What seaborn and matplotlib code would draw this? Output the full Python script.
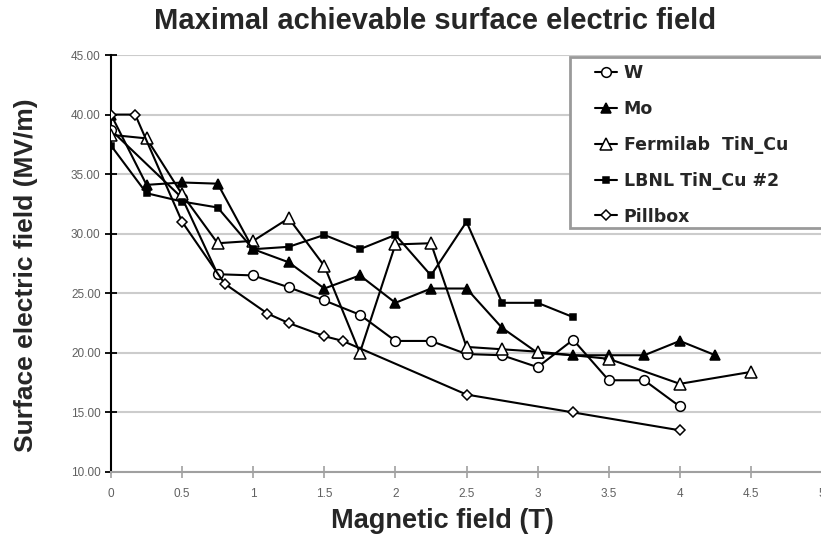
import matplotlib
matplotlib.use("Agg")
import matplotlib.pyplot as plt
from matplotlib.patches import Rectangle
import seaborn as sns
import pandas as pd

# ---- data ----
w_x = [0, 0.5, 0.75, 1, 1.25, 1.5, 1.75, 2, 2.25, 2.5, 2.75, 3, 3.25, 3.5, 3.75, 4]
w_y = [38.7, 33.0, 26.6, 26.5, 25.5, 24.4, 23.2, 21.0, 21.0, 19.9, 19.8, 18.8, 21.1, 17.7, 17.7, 15.5]

mo_x = [0, 0.25, 0.5, 0.75, 1, 1.25, 1.5, 1.75, 2, 2.25, 2.5, 2.75, 3, 3.25, 3.5, 3.75, 4, 4.25]
mo_y = [40.0, 34.1, 34.3, 34.2, 28.7, 27.6, 25.4, 26.5, 24.2, 25.4, 25.4, 22.1, 20.0, 19.8, 19.8, 19.8, 21.0, 19.8]

fn_x = [0, 0.25, 0.5, 0.75, 1, 1.25, 1.5, 1.75, 2, 2.25, 2.5, 2.75, 3, 3.5, 4, 4.5]
fn_y = [38.3, 38.0, 33.3, 29.2, 29.4, 31.3, 27.3, 20.0, 29.1, 29.2, 20.5, 20.3, 20.1, 19.5, 17.4, 18.4]

lb_x = [0, 0.25, 0.5, 0.75, 1, 1.25, 1.5, 1.75, 2, 2.25, 2.5, 2.75, 3, 3.25]
lb_y = [37.4, 33.4, 32.7, 32.2, 28.7, 28.9, 29.9, 28.7, 29.9, 26.5, 31.0, 24.2, 24.2, 23.0]

pb_x = [0, 0.17, 0.5, 0.8, 1.1, 1.25, 1.5, 1.63, 2.5, 3.25, 4]
pb_y = [40.0, 40.0, 31.0, 25.8, 23.3, 22.5, 21.4, 21.0, 16.5, 15.0, 13.5]

series_names = ["W", "Mo", "Fermilab  TiN_Cu", "LBNL TiN_Cu #2", "Pillbox"]
x_ticks = [0, 0.5, 1, 1.5, 2, 2.5, 3, 3.5, 4, 4.5, 5]
x_tick_labels = ["0", "0.5", "1", "1.5", "2", "2.5", "3", "3.5", "4", "4.5", "5"]
y_ticks = [10, 15, 20, 25, 30, 35, 40, 45]
y_tick_labels = ["10.00", "15.00", "20.00", "25.00", "30.00", "35.00", "40.00", "45.00"]

sns.set_style("white")
plt.rcParams["font.family"] = ["Liberation Sans", "DejaVu Sans"]

W, H = 821, 543
fig = plt.figure(figsize=(W / 100, H / 100), dpi=100)
ax = fig.add_axes([111 / W, 1 - 472 / H, 711 / W, 417 / H])

styles = [
    dict(marker="o", markersize=7, markerfacecolor="white"),
    dict(marker="^", markersize=7.5, markerfacecolor="black"),
    dict(marker="^", markersize=8.5, markerfacecolor="white"),
    dict(marker="s", markersize=5, markerfacecolor="black"),
    dict(marker="D", markersize=5.5, markerfacecolor="white"),
]
data = [(w_x, w_y), (mo_x, mo_y), (fn_x, fn_y), (lb_x, lb_y), (pb_x, pb_y)]

for name, (xs, ys), st in zip(series_names, data, styles):
    df = pd.DataFrame({"x": xs, "y": ys})
    sns.lineplot(data=df, x="x", y="y", ax=ax, color="black", linewidth=1.5,
                 markeredgecolor="black", markeredgewidth=1.1, label=name,
                 zorder=3, **st)

ax.set_xlim(0, 5)
ax.set_ylim(10, 45)
ax.set_xticks(x_ticks)
ax.set_xticklabels(x_tick_labels)
ax.set_yticks(y_ticks)
ax.set_yticklabels(y_tick_labels)
ax.yaxis.grid(True, color="#cccccc", linewidth=1.5)
ax.xaxis.grid(False)
ax.set_axisbelow(True)

for s in ["top", "right"]:
    ax.spines[s].set_visible(False)
ax.spines["left"].set_color("black")
ax.spines["left"].set_linewidth(1.5)
ax.spines["bottom"].set_color("#a0a0a0")
ax.spines["bottom"].set_linewidth(1.5)

ax.tick_params(axis="y", direction="inout", length=9, width=1.3, color="black",
               labelsize=8.5, labelcolor="#606060", left=True, pad=3)
ax.tick_params(axis="x", direction="inout", length=9, width=1.1, color="#999999",
               labelsize=8.5, labelcolor="#606060", bottom=True, pad=7)

ax.set_xlabel("Magnetic field (T)", fontsize=19.5, fontweight="bold")
ax.xaxis.set_label_coords(0.466, -0.086)
ax.set_ylabel("Surface electric field (MV/m)", fontsize=19, fontweight="bold")
ax.yaxis.set_label_coords(-0.103, 0.472)
fig.text(435 / W, 1 - 7 / H, "Maximal achievable surface electric field",
         ha="center", va="top", fontsize=21, fontweight="bold")

# legend frame (extends past the right edge like the reference)
ax.add_patch(Rectangle((570 / W, 1 - 228 / H), 0.35, (228 - 57) / H,
                       transform=fig.transFigure, facecolor="white",
                       edgecolor="#9a9a9a", linewidth=2, zorder=4,
                       clip_on=False))
leg = ax.legend(loc="upper left", bbox_to_anchor=(595 / W, 1 - 64 / H),
                bbox_transform=fig.transFigure, frameon=False,
                prop={"family": "DejaVu Sans", "weight": "bold", "size": 12.5},
                handlelength=1.25, handletextpad=0.4, labelspacing=1.03,
                borderpad=0, borderaxespad=0)
leg.set_zorder(6)

fig.savefig("out.png", dpi=100)
